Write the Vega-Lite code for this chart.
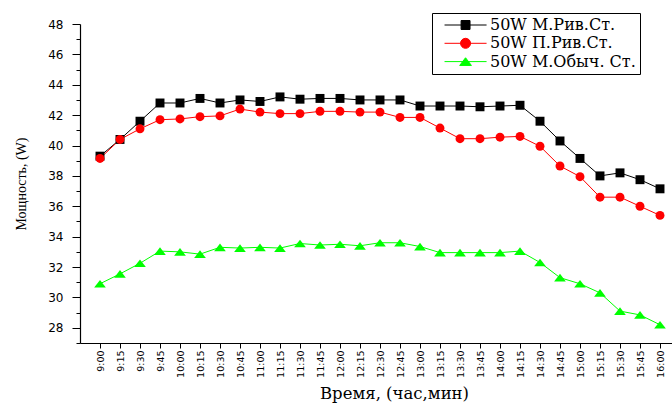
{
  "$schema": "https://vega.github.io/schema/vega-lite/v6.json",
  "width": 592,
  "height": 319,
  "autosize": "none",
  "padding": {"left": 80, "top": 24, "right": 0, "bottom": 62},
  "background": "white",
  "data": {
    "values": [
      {"t": "9:00", "s": "50W М.Рив.Ст.", "v": 39.3},
      {"t": "9:15", "s": "50W М.Рив.Ст.", "v": 40.4},
      {"t": "9:30", "s": "50W М.Рив.Ст.", "v": 41.6},
      {"t": "9:45", "s": "50W М.Рив.Ст.", "v": 42.8},
      {"t": "10:00", "s": "50W М.Рив.Ст.", "v": 42.8},
      {"t": "10:15", "s": "50W М.Рив.Ст.", "v": 43.1},
      {"t": "10:30", "s": "50W М.Рив.Ст.", "v": 42.8},
      {"t": "10:45", "s": "50W М.Рив.Ст.", "v": 43.0},
      {"t": "11:00", "s": "50W М.Рив.Ст.", "v": 42.9},
      {"t": "11:15", "s": "50W М.Рив.Ст.", "v": 43.2},
      {"t": "11:30", "s": "50W М.Рив.Ст.", "v": 43.05},
      {"t": "11:45", "s": "50W М.Рив.Ст.", "v": 43.1},
      {"t": "12:00", "s": "50W М.Рив.Ст.", "v": 43.1},
      {"t": "12:15", "s": "50W М.Рив.Ст.", "v": 43.0},
      {"t": "12:30", "s": "50W М.Рив.Ст.", "v": 43.0},
      {"t": "12:45", "s": "50W М.Рив.Ст.", "v": 43.0},
      {"t": "13:00", "s": "50W М.Рив.Ст.", "v": 42.6},
      {"t": "13:15", "s": "50W М.Рив.Ст.", "v": 42.6},
      {"t": "13:30", "s": "50W М.Рив.Ст.", "v": 42.6},
      {"t": "13:45", "s": "50W М.Рив.Ст.", "v": 42.55},
      {"t": "14:00", "s": "50W М.Рив.Ст.", "v": 42.6},
      {"t": "14:15", "s": "50W М.Рив.Ст.", "v": 42.65},
      {"t": "14:30", "s": "50W М.Рив.Ст.", "v": 41.6},
      {"t": "14:45", "s": "50W М.Рив.Ст.", "v": 40.3},
      {"t": "15:00", "s": "50W М.Рив.Ст.", "v": 39.15},
      {"t": "15:15", "s": "50W М.Рив.Ст.", "v": 38.0},
      {"t": "15:30", "s": "50W М.Рив.Ст.", "v": 38.2},
      {"t": "15:45", "s": "50W М.Рив.Ст.", "v": 37.75},
      {"t": "16:00", "s": "50W М.Рив.Ст.", "v": 37.15},
      {"t": "9:00", "s": "50W П.Рив.Ст.", "v": 39.15},
      {"t": "9:15", "s": "50W П.Рив.Ст.", "v": 40.4},
      {"t": "9:30", "s": "50W П.Рив.Ст.", "v": 41.1},
      {"t": "9:45", "s": "50W П.Рив.Ст.", "v": 41.7},
      {"t": "10:00", "s": "50W П.Рив.Ст.", "v": 41.75},
      {"t": "10:15", "s": "50W П.Рив.Ст.", "v": 41.9},
      {"t": "10:30", "s": "50W П.Рив.Ст.", "v": 41.95},
      {"t": "10:45", "s": "50W П.Рив.Ст.", "v": 42.4},
      {"t": "11:00", "s": "50W П.Рив.Ст.", "v": 42.2},
      {"t": "11:15", "s": "50W П.Рив.Ст.", "v": 42.1},
      {"t": "11:30", "s": "50W П.Рив.Ст.", "v": 42.1},
      {"t": "11:45", "s": "50W П.Рив.Ст.", "v": 42.25},
      {"t": "12:00", "s": "50W П.Рив.Ст.", "v": 42.25},
      {"t": "12:15", "s": "50W П.Рив.Ст.", "v": 42.2},
      {"t": "12:30", "s": "50W П.Рив.Ст.", "v": 42.2},
      {"t": "12:45", "s": "50W П.Рив.Ст.", "v": 41.85},
      {"t": "13:00", "s": "50W П.Рив.Ст.", "v": 41.85},
      {"t": "13:15", "s": "50W П.Рив.Ст.", "v": 41.15},
      {"t": "13:30", "s": "50W П.Рив.Ст.", "v": 40.45},
      {"t": "13:45", "s": "50W П.Рив.Ст.", "v": 40.45},
      {"t": "14:00", "s": "50W П.Рив.Ст.", "v": 40.55},
      {"t": "14:15", "s": "50W П.Рив.Ст.", "v": 40.6},
      {"t": "14:30", "s": "50W П.Рив.Ст.", "v": 39.95},
      {"t": "14:45", "s": "50W П.Рив.Ст.", "v": 38.65},
      {"t": "15:00", "s": "50W П.Рив.Ст.", "v": 37.95},
      {"t": "15:15", "s": "50W П.Рив.Ст.", "v": 36.6},
      {"t": "15:30", "s": "50W П.Рив.Ст.", "v": 36.6},
      {"t": "15:45", "s": "50W П.Рив.Ст.", "v": 36.0},
      {"t": "16:00", "s": "50W П.Рив.Ст.", "v": 35.4},
      {"t": "9:00", "s": "50W М.Обыч. Ст.", "v": 30.9},
      {"t": "9:15", "s": "50W М.Обыч. Ст.", "v": 31.55},
      {"t": "9:30", "s": "50W М.Обыч. Ст.", "v": 32.25},
      {"t": "9:45", "s": "50W М.Обыч. Ст.", "v": 33.05},
      {"t": "10:00", "s": "50W М.Обыч. Ст.", "v": 33.0},
      {"t": "10:15", "s": "50W М.Обыч. Ст.", "v": 32.85},
      {"t": "10:30", "s": "50W М.Обыч. Ст.", "v": 33.3},
      {"t": "10:45", "s": "50W М.Обыч. Ст.", "v": 33.25},
      {"t": "11:00", "s": "50W М.Обыч. Ст.", "v": 33.3},
      {"t": "11:15", "s": "50W М.Обыч. Ст.", "v": 33.25},
      {"t": "11:30", "s": "50W М.Обыч. Ст.", "v": 33.55},
      {"t": "11:45", "s": "50W М.Обыч. Ст.", "v": 33.45},
      {"t": "12:00", "s": "50W М.Обыч. Ст.", "v": 33.5},
      {"t": "12:15", "s": "50W М.Обыч. Ст.", "v": 33.4},
      {"t": "12:30", "s": "50W М.Обыч. Ст.", "v": 33.6},
      {"t": "12:45", "s": "50W М.Обыч. Ст.", "v": 33.6},
      {"t": "13:00", "s": "50W М.Обыч. Ст.", "v": 33.35},
      {"t": "13:15", "s": "50W М.Обыч. Ст.", "v": 32.95},
      {"t": "13:30", "s": "50W М.Обыч. Ст.", "v": 32.95},
      {"t": "13:45", "s": "50W М.Обыч. Ст.", "v": 32.95},
      {"t": "14:00", "s": "50W М.Обыч. Ст.", "v": 32.95},
      {"t": "14:15", "s": "50W М.Обыч. Ст.", "v": 33.05},
      {"t": "14:30", "s": "50W М.Обыч. Ст.", "v": 32.3},
      {"t": "14:45", "s": "50W М.Обыч. Ст.", "v": 31.3},
      {"t": "15:00", "s": "50W М.Обыч. Ст.", "v": 30.9},
      {"t": "15:15", "s": "50W М.Обыч. Ст.", "v": 30.3},
      {"t": "15:30", "s": "50W М.Обыч. Ст.", "v": 29.1},
      {"t": "15:45", "s": "50W М.Обыч. Ст.", "v": 28.85},
      {"t": "16:00", "s": "50W М.Обыч. Ст.", "v": 28.2}
    ]
  },
  "encoding": {
    "x": {
      "field": "t",
      "type": "ordinal",
      "sort": null,
      "scale": {"type": "point", "padding": 0.8, "align": 0.625},
      "axis": {
        "title": "Время, (час,мин)",
        "labelAngle": 270,
        "labelFont": "DejaVu Sans",
        "labelFontSize": 9.5,
        "labelPadding": 2,
        "tickSize": 5,
        "titleFont": "DejaVu Serif",
        "titleFontSize": 16.5,
        "titleFontWeight": "normal",
        "titleX": 314,
        "titlePadding": 8
      }
    },
    "y": {
      "field": "v",
      "type": "quantitative",
      "scale": {"domain": [27, 48], "nice": false, "zero": false},
      "axis": {
        "title": "Мощность, (W)",
        "values": [27, 28, 29, 30, 31, 32, 33, 34, 35, 36, 37, 38, 39, 40, 41, 42, 43, 44, 45, 46, 47, 48],
        "labelExpr": "datum.value % 2 === 0 ? datum.label : ''",
        "tickSize": {"condition": {"test": "datum.value % 2 === 0", "value": 8}, "value": 4},
        "labelPadding": 9,
        "labelFont": "DejaVu Sans",
        "labelFontSize": 12,
        "titleFont": "Liberation Serif",
        "titleFontSize": 14,
        "titleFontWeight": "normal",
        "titlePadding": 19
      }
    },
    "color": {
      "field": "s",
      "type": "nominal",
      "sort": null,
      "scale": {
        "domain": ["50W М.Рив.Ст.", "50W П.Рив.Ст.", "50W М.Обыч. Ст."],
        "range": ["#000000", "#ff0000", "#00ff00"]
      },
      "legend": {
        "title": null,
        "orient": "none",
        "legendX": 352,
        "legendY": -11,
        "labelFont": "DejaVu Serif",
        "labelFontSize": 16,
        "labelColor": "black",
        "labelOffset": 38,
        "padding": 4,
        "rowPadding": 2.3,
        "strokeColor": "black",
        "fillColor": "white",
        "symbolSize": 80,
        "encode": {
          "symbols": {
            "update": {
              "shape": {"signal": "datum.index === 0 ? 'M0.12,0H9.52M3.82,-1H5.82V1H3.82Z' : datum.index === 1 ? 'M0.12,0H9.52M5.94,0A1.12,1.12 0 1,1 3.7,0A1.12,1.12 0 1,1 5.94,0Z' : 'M0.12,0H9.52M4.82,-0.86L6.13,0.86H3.51Z'"},
              "fill": {"signal": "scale('color', datum.value)"},
              "stroke": {"signal": "scale('color', datum.value)"},
              "strokeWidth": {"value": 1},
              "opacity": {"value": 1},
              "size": {"value": 80}
            }
          }
        }
      }
    }
  },
  "layer": [
    {"mark": {"type": "line", "strokeWidth": 1}},
    {
      "mark": {"type": "point", "filled": true, "opacity": 1, "size": 80},
      "encoding": {
        "shape": {
          "field": "s",
          "type": "nominal",
          "sort": null,
          "legend": null,
          "scale": {
            "domain": ["50W П.Рив.Ст.", "50W М.Рив.Ст.", "50W М.Обыч. Ст."],
            "range": ["circle", "square", "M0,-0.86L1.31,0.86H-1.31Z"]
          }
        }
      }
    }
  ],
  "config": {
    "view": {"stroke": null},
    "axis": {
      "grid": false,
      "domainColor": "black",
      "domainWidth": 1.2,
      "tickColor": "black",
      "tickWidth": 1,
      "labelColor": "black",
      "titleColor": "black"
    }
  }
}
